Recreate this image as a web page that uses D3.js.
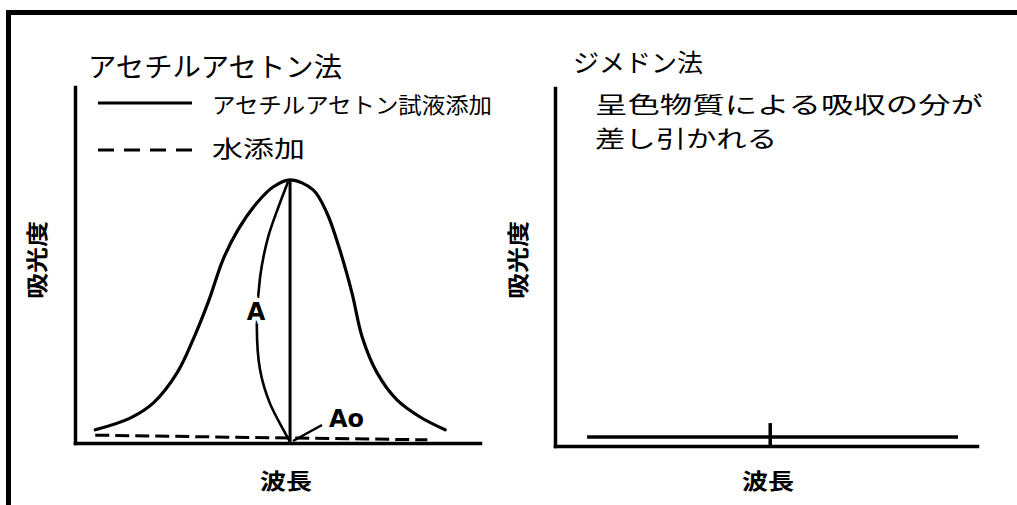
<!DOCTYPE html>
<html>
<head>
<meta charset="utf-8">
<script src="https://cdn.jsdelivr.net/npm/d3@7"></script>
<style>
  body { margin: 0; background: #fff; }
  svg text { font-family: "Noto Sans CJK JP", "Noto Sans", sans-serif; fill: #000; }
</style>
</head>
<body>
<div class="chart"></div>
<script>
// Data (arbitrary units, 0-100 on both axes)
var wavelength = [5, 13.6, 19.3, 25.2, 29.1, 33.1, 36.5, 40.2, 44.9, 48.9, 53.1, 58.8, 62.2, 65.4, 68.4, 70.9, 74.6, 79.5, 85.2, 91.4];
var reagentAbs = [3.7, 7.0, 11.2, 19.7, 28.9, 40.2, 51.4, 59.8, 67.4, 71.9, 73.9, 71.1, 64.6, 54.2, 42.1, 29.8, 19.7, 12.1, 7.3, 3.7];

var waterWl = [5, 53.1, 87];
var waterAbs = [2.2, 1.4, 0.9];

// curved arrow marking the height A
var arcWl = [52.6, 50.6, 47.7, 45.7, 44.9, 45.7, 48.1, 51.9, 53.1];
var arcAbs = [73.3, 67.4, 57.9, 46.6, 32.6, 20.5, 11.2, 2.8, 0.3];

var peakWl = 53.1;
var peakAbs = 73.9;

// dimedone method: difference spectrum
var dimedoneWl = [7.6, 51, 95.5];
var dimedoneAbs = [2.5, 2.5, 2.5];
var dimedonePeakWl = 51;
var dimedoneTick = 6.4;

var svgWidth = 1017;
var svgHeight = 505;

var svg = d3.select(".chart")
  .append("svg")
  .attr("width", svgWidth)
  .attr("height", svgHeight);

svg.append("rect").attr("width", svgWidth).attr("height", svgHeight).attr("fill", "#fff");

// frame (top and left edges only)
svg.append("path")
  .attr("d", "M8.5,505V12.5H1017")
  .attr("fill", "none")
  .attr("stroke", "#000")
  .attr("stroke-width", 5);

// Scales
var xLeft = d3.scaleLinear().domain([0, 100]).range([75, 480]);
var yLeft = d3.scaleLinear().domain([0, 100]).range([443, 87]);
var xRight = d3.scaleLinear().domain([0, 100]).range([555, 977]);
var yRight = d3.scaleLinear().domain([0, 100]).range([446, 88]);

function drawAxes(x, y) {
  var g = svg.append("g");
  g.append("g")
    .attr("transform", `translate(0, ${y(0)})`)
    .call(d3.axisBottom(x).tickValues([]).tickSizeOuter(0));
  g.append("g")
    .attr("transform", `translate(${x(0)}, 0)`)
    .call(d3.axisLeft(y).tickValues([]).tickSizeOuter(0));
  g.selectAll(".domain")
    .attr("stroke", "#000")
    .attr("stroke-width", 3.5)
    .attr("stroke-linecap", "square");
}

drawAxes(xLeft, yLeft);
drawAxes(xRight, yRight);

function addText(str, x, y, size, len, opts) {
  opts = opts || {};
  var t = svg.append("text")
    .attr("x", x)
    .attr("y", y)
    .attr("font-size", size)
    .attr("font-weight", opts.weight || "normal")
    .attr("textLength", len)
    .attr("lengthAdjust", "spacingAndGlyphs")
    .text(str);
  if (opts.anchor) t.attr("text-anchor", opts.anchor);
  if (opts.rotate) t.attr("transform", `rotate(-90, ${x}, ${y})`);
  return t;
}

// ---- left panel: acetylacetone method ----
addText("アセチルアセトン法", 88, 77, 27, 254);

svg.append("line")
  .attr("x1", 98).attr("x2", 192).attr("y1", 103).attr("y2", 103)
  .attr("stroke", "#000").attr("stroke-width", 3);
addText("アセチルアセトン試液添加", 212, 113, 22, 280);

svg.append("line")
  .attr("x1", 98).attr("x2", 192).attr("y1", 150).attr("y2", 150)
  .attr("stroke", "#000").attr("stroke-width", 3)
  .attr("stroke-dasharray", "16,10");
addText("水添加", 212, 157, 23, 93);

var lineLeft = d3.line()
  .x(d => xLeft(d[0]))
  .y(d => yLeft(d[1]))
  .curve(d3.curveCatmullRom);

svg.append("path")
  .datum(d3.zip(wavelength, reagentAbs))
  .attr("d", lineLeft)
  .attr("fill", "none")
  .attr("stroke", "#000")
  .attr("stroke-width", 3.2)
  .attr("stroke-linecap", "round");

svg.append("path")
  .datum(d3.zip(waterWl, waterAbs))
  .attr("d", lineLeft.curve(d3.curveLinear))
  .attr("fill", "none")
  .attr("stroke", "#000")
  .attr("stroke-width", 3)
  .attr("stroke-dasharray", "14,6");

// peak height line
svg.append("line")
  .attr("x1", xLeft(peakWl)).attr("x2", xLeft(peakWl))
  .attr("y1", yLeft(peakAbs)).attr("y2", yLeft(0))
  .attr("stroke", "#000").attr("stroke-width", 3);

// curved arrow for A
svg.append("path")
  .datum(d3.zip(arcWl, arcAbs))
  .attr("d", d3.line().x(d => xLeft(d[0])).y(d => yLeft(d[1])).curve(d3.curveCatmullRom))
  .attr("fill", "none")
  .attr("stroke", "#000")
  .attr("stroke-width", 2.6);

svg.append("text")
  .attr("x", 256).attr("y", 320)
  .attr("text-anchor", "middle")
  .attr("font-size", 24)
  .attr("font-weight", "bold")
  .attr("stroke", "#fff")
  .attr("stroke-width", 8)
  .attr("paint-order", "stroke")
  .style("font-family", "'DejaVu Sans', sans-serif")
  .text("A");

// pointer for Ao
svg.append("line")
  .attr("x1", 322).attr("y1", 425).attr("x2", 293).attr("y2", 441)
  .attr("stroke", "#000").attr("stroke-width", 2.5);
svg.append("text")
  .attr("x", 329).attr("y", 427)
  .attr("font-size", 24)
  .attr("font-weight", "bold")
  .attr("textLength", 35)
  .attr("lengthAdjust", "spacingAndGlyphs")
  .style("font-family", "'DejaVu Sans', sans-serif")
  .text("Ao");

addText("吸光度", 45, 260, 22, 78, { anchor: "middle", rotate: true, weight: "bold" });
addText("波長", 286, 489, 22, 52, { anchor: "middle", weight: "bold" });

// ---- right panel: dimedone method ----
addText("ジメドン法", 573, 72, 25, 130);

// two-line note as one text block
var note = svg.append("text")
  .attr("font-size", 23);
note.append("tspan")
  .attr("x", 595).attr("y", 113)
  .attr("textLength", 388)
  .attr("lengthAdjust", "spacingAndGlyphs")
  .text("呈色物質による吸収の分が");
note.append("tspan")
  .attr("x", 595).attr("y", 147)
  .attr("textLength", 182)
  .attr("lengthAdjust", "spacingAndGlyphs")
  .text("差し引かれる");

svg.append("path")
  .datum(d3.zip(dimedoneWl, dimedoneAbs))
  .attr("d", d3.line().x(d => xRight(d[0])).y(d => yRight(d[1])))
  .attr("fill", "none")
  .attr("stroke", "#000")
  .attr("stroke-width", 3.5);

svg.append("line")
  .attr("x1", xRight(dimedonePeakWl)).attr("x2", xRight(dimedonePeakWl))
  .attr("y1", yRight(dimedoneTick)).attr("y2", yRight(0))
  .attr("stroke", "#000").attr("stroke-width", 3.5);

addText("吸光度", 526, 260, 22, 78, { anchor: "middle", rotate: true, weight: "bold" });
addText("波長", 768, 489, 22, 52, { anchor: "middle", weight: "bold" });
</script>
</body>
</html>
